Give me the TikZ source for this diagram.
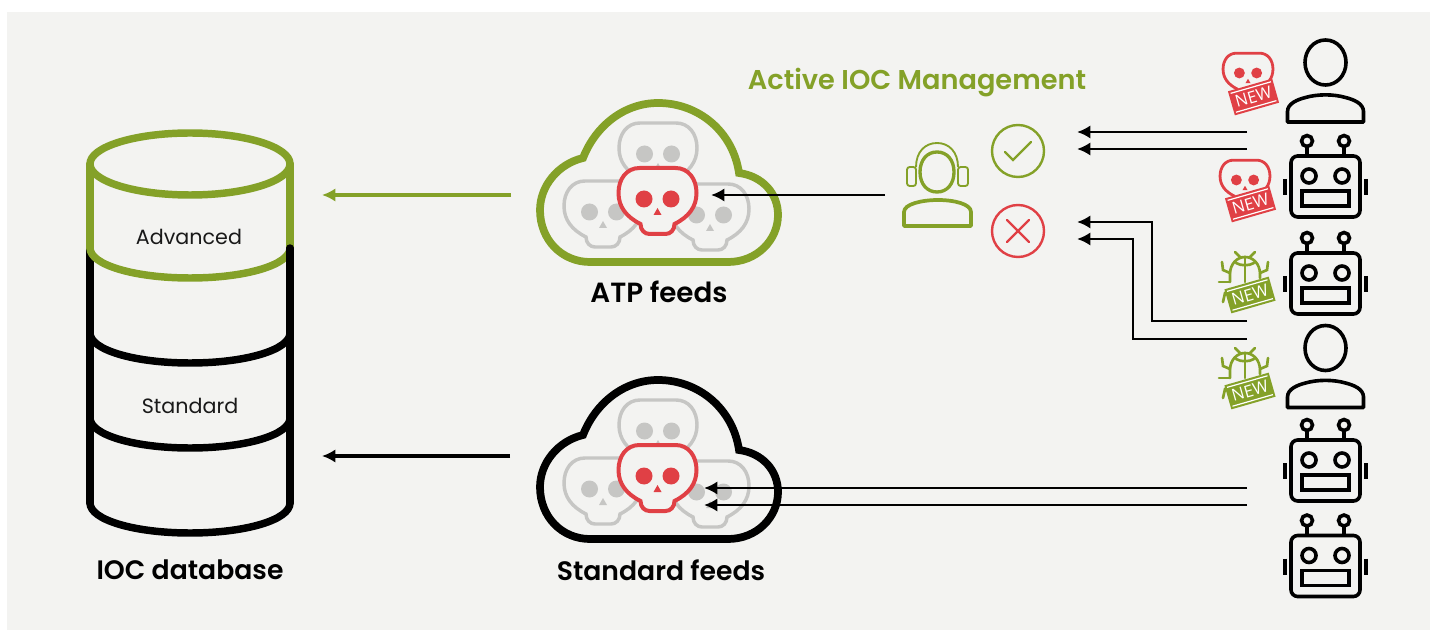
\documentclass[tikz,border=0pt]{standalone}
\usepackage{fontspec}
\setmainfont[BoldFont={Poppins SemiBold}]{Poppins}
\newfontfamily\tagfont{Open Sans}
\usetikzlibrary{arrows.meta}
\usetikzlibrary{positioning}
\definecolor{iocbg}{HTML}{F3F3F1}
\definecolor{iocgreen}{HTML}{84A128}
\definecolor{iocred}{HTML}{E04045}
\definecolor{iocgray}{HTML}{C6C6C4}
% lower half of one cylinder ring, #1 is the y of its ends
\newcommand{\ringarc}[1]{(90,#1) .. controls (90,#1+17) and (135,#1+30) .. (190,#1+30) .. controls (245,#1+30) and (290,#1+17) .. (290,#1)}
\tikzset{
  pics/skull/.style={code={
    \draw[fill=iocbg] (-18,-31) -- (18,-31) .. controls (31,-31) and (39,-20) .. (39,-6)
      .. controls (39,8) and (31,18) .. (17,25) .. controls (17,31) and (13,35) .. (8,35)
      -- (-8,35) .. controls (-13,35) and (-17,31) .. (-17,25)
      .. controls (-31,18) and (-39,8) .. (-39,-6) .. controls (-39,-20) and (-31,-31) .. (-18,-31) -- cycle;
    \fill (-13.5,0) circle (8.5);
    \fill (13.5,0) circle (8.5);
    \fill (0,9) -- (4,16) -- (-4,16) -- cycle;
  }},
  pics/newtag/.style={code={
    \fill (-23,-12.5) rectangle (23,12.5);
    \draw[white,line width=0.9pt] (-21,-9.8) -- (21,-9.8);
    \draw[white,line width=0.9pt] (-21,9.8) -- (21,9.8);
    \node[transform shape,text=white,inner sep=0pt,font=\tagfont\fontsize{12.5}{12.5}\selectfont] (-label) at (0,0) {NEW};
  }},
  pics/bug/.style={code={
    \draw (-15,0) -- (-15,-8) .. controls (-15,-18) and (-8,-25) .. (0,-25) .. controls (8,-25) and (15,-18) .. (15,-8) -- (15,-4);
    \draw (0,-25) -- (0,0);
    \draw (-9,-19) .. controls (-4,-16) and (4,-16) .. (9,-19);
    \draw (-23,-20) -- (-22,-12) -- (-15,-9);
    \draw (23,-20) -- (22,-12) -- (15,-9);
    \draw (-10,-30) -- (-4,-24);
    \draw (10,-30) -- (4,-24);
    \draw (-26,0) -- (-16,0);
    \draw (-22,20) -- (-20,11) -- (-15,7);
  }},
  pics/robot/.style={code={
    \draw[rounded corners=5] (-34.5,-30.5) rectangle (34.5,30.5);
    \draw (-18.5,-45.5) circle (5.5);
    \draw (18.5,-45.5) circle (5.5);
    \draw (-18.5,-40) -- (-18.5,-30.5);
    \draw (18.5,-40) -- (18.5,-30.5);
    \draw (-16.5,-10.5) circle (7);
    \draw (16.5,-10.5) circle (7);
    \draw (-23.5,4.5) rectangle (23.5,19.5);
    \draw (-40.5,-7.5) -- (-40.5,8.5);
    \draw (40.5,-7.5) -- (40.5,8.5);
  }},
  pics/person/.style={code={
    \draw (0,-22.5) .. controls (12,-22.5) and (20.5,-12) .. (20.5,0) .. controls (20.5,13) and (11,22.5) .. (0,22.5)
      .. controls (-11,22.5) and (-20.5,13) .. (-20.5,0) .. controls (-20.5,-12) and (-12,-22.5) .. (0,-22.5) -- cycle;
    \draw[line join=round] (-38,59.5) -- (-38,49) .. controls (-38,41) and (-28,37) .. (-20,35)
      .. controls (-8,31.5) and (8,31.5) .. (20,35) .. controls (28,37) and (38,41) .. (38,49) -- (38,59.5) -- cycle;
  }},
  pics/agent/.style={code={
    \draw[line width=2.5pt] (0,-20) .. controls (10,-20) and (17,-12) .. (17,0) .. controls (17,12) and (10,20) .. (0,20)
      .. controls (-10,20) and (-17,12) .. (-17,0) .. controls (-17,-12) and (-10,-20) .. (0,-20) -- cycle;
    \draw[line width=1.4pt] (-21,-5) .. controls (-21,-20) and (-12,-29) .. (0,-29) .. controls (12,-29) and (21,-20) .. (21,-5);
    \draw[line width=1.4pt,rounded corners=2] (-21,-5) -- (-30,-5) -- (-30,14) -- (-21,14) -- cycle;
    \draw[line width=1.4pt,rounded corners=2] (21,-5) -- (31,-5) -- (31,14) -- (21,14) -- cycle;
    \draw[line width=2.8pt,line join=round] (-33,54) -- (-33,40) .. controls (-33,32) and (-15,28) .. (1,28)
      .. controls (17,28) and (34,32) .. (34,40) -- (34,54) -- cycle;
  }},
}
\begin{document}
\begin{tikzpicture}[
    x=0.75pt,y=-0.75pt,
    link/.style={-{Latex[length=10pt,width=10pt]},line width=2.1pt,black},
    linkbig/.style={link,line width=3pt},
    title/.style={font=\bfseries\fontsize{20}{22}\selectfont,inner sep=0pt},
    layer/.style={font=\fontsize{15.5}{18}\selectfont,inner sep=0pt,text=black!90},
    icon/.style={line width=2.7pt,black},
    mini/.style={scale=0.64,line width=2.1pt,iocred},
    insect/.style={line width=2pt,iocgreen,line cap=round},
    cloud/.style={line width=5.8pt,fill=iocbg},
  ]
  \useasboundingbox (0,0) rectangle (1437,630);
  \fill[iocbg] (7,12) rectangle (1430,630);

  % Database
  \draw[line width=5.6pt,line cap=round] (90,248) -- (90,503);
  \draw[line width=5.6pt,line cap=round] \ringarc{333};
  \draw[line width=5.6pt,line cap=round] \ringarc{418};
  \draw[line width=5.6pt,line cap=round] \ringarc{503};
  \draw[iocgreen,line width=5.6pt,line cap=round] (190,164) ellipse (100 and 31);
  \draw[iocgreen,line width=5.6pt,line cap=round] (90,164) -- (90,248);
  \draw[iocgreen,line width=5.6pt,line cap=round] (290,164) -- (290,248);
  \draw[iocgreen,line width=5.6pt,line cap=round] \ringarc{248};
  \draw[line width=5.6pt,line cap=round] (290,248) -- (290,503);
  \node[layer] (advanced) at (189,237) {Advanced};
  \node[layer] (standard) at (190,406) {Standard};
  \node[title] (dbname) at (190,570) {IOC database};

  % Clouds
  \foreach \cy/\cc/\nm in {0/iocgreen/atp,277/black/std} {
    \begin{scope}[yshift=-0.75*\cy]
      \draw[cloud,draw=\cc] (590,262) -- (728,262) .. controls (757,262) and (778,240) .. (778,215)
        .. controls (778,193) and (762,176) .. (739,173) .. controls (733,132) and (699,103) .. (658,103)
        .. controls (625,103) and (596,125) .. (583,158) .. controls (558,164) and (540,186) .. (540,210)
        .. controls (540,240) and (562,262) .. (590,262) -- cycle;
      \pic[iocgray,line width=2.6pt] at (658,154) {skull};
      \pic[iocgray,line width=2.6pt] at (603,212) {skull};
      \pic[iocgray,line width=2.6pt] at (710,215) {skull};
      \pic[iocred,line width=3pt] at (657.5,199) {skull};
    \end{scope}
  }
  \node[title,font=\bfseries\fontsize{20.8}{22}\selectfont] (atpname) at (659,292) {ATP feeds};
  \node[title] (stdname) at (661,570) {Standard feeds};

  % Active management
  \node[title,font=\bfseries\fontsize{20.4}{22}\selectfont,text=iocgreen] (active) at (917,83) {Active IOC Management};
  \pic[iocgreen] at (937,172) {agent};
  \draw[iocgreen,line width=1.8pt] (1018,151) circle (26);
  \draw[iocgreen,line width=1.8pt,line cap=round] (1005,152) -- (1013,160) -- (1031,142);
  \draw[iocred,line width=1.8pt] (1018,231) circle (26);
  \draw[iocred,line width=1.8pt,line cap=round] (1007,220) -- (1029,242);
  \draw[iocred,line width=1.8pt,line cap=round] (1029,220) -- (1007,242);

  % Sources
  \pic[icon] at (1325.5,62.5) {person};
  \pic[icon] at (1325.5,348) {person};
  \foreach \ry in {186.5,283.5,470.5,566} {
    \pic[icon] at (1325.5,\ry) {robot};
  }

  % Tags
  \pic[mini] at (1248,73) {skull};
  \pic[iocred,rotate=16] (tagone) at (1253.5,97) {newtag};
  \pic[mini] at (1245,180) {skull};
  \pic[iocred,rotate=16] (tagtwo) at (1250.5,204) {newtag};
  \pic[insect] at (1245,282) {bug};
  \pic[iocgreen,rotate=16] (tagthree) at (1250,295) {newtag};
  \pic[insect] at (1245,378) {bug};
  \pic[iocgreen,rotate=16] (tagfour) at (1250,391) {newtag};

  % Arrow ends
  \coordinate (srcA) at (1247,132);
  \coordinate (srcB) at (1247,149);
  \coordinate (srcC) at (1247,321);
  \coordinate (srcD) at (1247,339);
  \coordinate (srcE) at (1247,488);
  \coordinate (srcF) at (1247,505);
  \coordinate (okA) at (1077,132);
  \coordinate (okB) at (1077,149);
  \coordinate (noA) at (1077,222);
  \coordinate (noB) at (1077,239);
  \coordinate (feedA) at (704,488);
  \coordinate (feedB) at (704,505);
  \coordinate (agentout) at (885,195);
  \coordinate (atpin) at (711,195);
  \coordinate (atpout) at (511,195);
  \coordinate (dbA) at (322,195);
  \coordinate (stdout) at (510,456);
  \coordinate (dbB) at (322,456);

  \draw[link] (srcA) -- (okA);
  \draw[link] (srcB) -- (okB);
  \draw[link] (srcC) -| (1152,222) -- (noA);
  \draw[link] (srcD) -| (1133,239) -- (noB);
  \draw[link] (srcE) -- (feedA);
  \draw[link] (srcF) -- (feedB);
  \draw[link] (agentout) -- (atpin);
  \draw[linkbig,iocgreen] (atpout) -- (dbA);
  \draw[linkbig] (stdout) -- (dbB);
\end{tikzpicture}
\end{document}
